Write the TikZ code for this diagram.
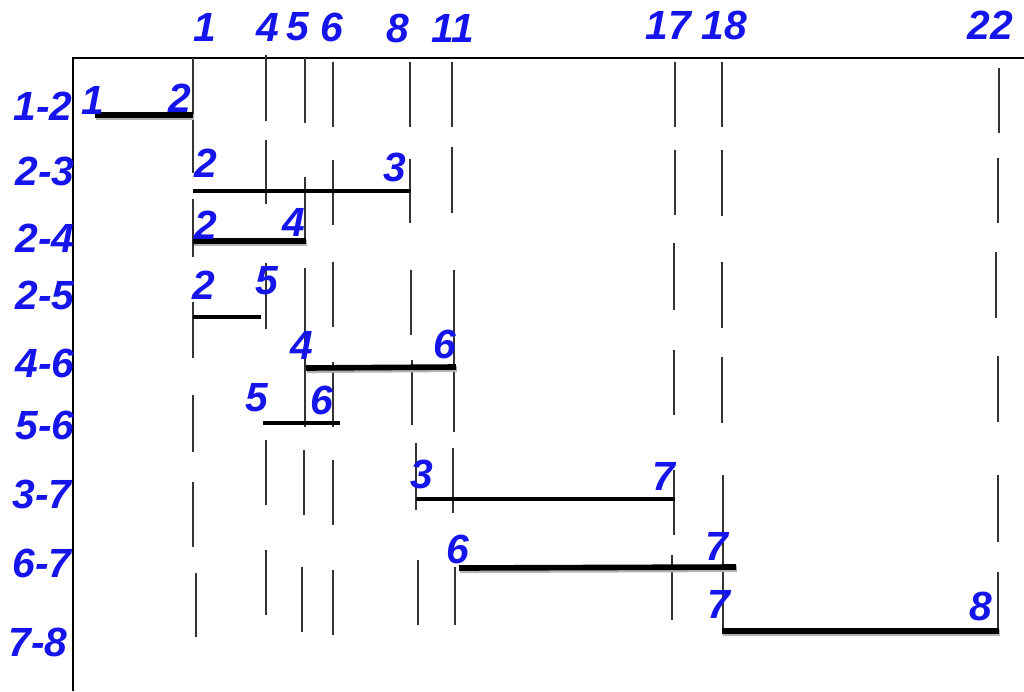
\documentclass[tikz,border=0pt]{standalone}
\usepackage{fontspec}
\setmainfont{Liberation Sans}
\usetikzlibrary{positioning}
\definecolor{evblue}{RGB}{20,20,235}

\tikzset{
  evlabel/.style={text=evblue, inner sep=0pt, font=\fontsize{29}{31}\selectfont\bfseries\itshape},
  tickline/.style={line width=1.7pt, black!80},
  heavybar/.style={line width=4pt, preaction={draw, black!30, line width=4pt, transform canvas={shift={(0.6pt,-1.6pt)}}}},
  lightbar/.style={line width=2.6pt},
  axisline/.style={line width=1.8pt}
}

\begin{document}
\begin{tikzpicture}[x=0.025cm, y=-0.025cm]
  \useasboundingbox (0,0) rectangle (1024,691);

  % axes
  \draw[axisline] (73,691) -- (73,58) -- (1024,58);

  % top scale
  \node[evlabel] (t1)  at (205,27) {1};
  \node[evlabel] (t4)  at (268,27) {4};
  \node[evlabel] (t5)  at (298,27) {5};
  \node[evlabel] (t6)  at (332,27) {6};
  \node[evlabel] (t8)  at (398,28) {8};
  \node[evlabel] (t11) at (453,28) {11};
  \node[evlabel] (t17) at (668,25) {17};
  \node[evlabel] (t18) at (724,25) {18};
  \node[evlabel] (t22) at (990,25) {22};

  % activity names
  \node[evlabel] (r12) at (43,106) {1-2};
  \node[evlabel] (r23) at (45,171) {2-3};
  \node[evlabel] (r24) at (45,238) {2-4};
  \node[evlabel] (r25) at (45,295) {2-5};
  \node[evlabel] (r46) at (45,363) {4-6};
  \node[evlabel] (r56) at (45,425) {5-6};
  \node[evlabel] (r37) at (42,494) {3-7};
  \node[evlabel] (r67) at (42,563) {6-7};
  \node[evlabel] (r78) at (38,642) {7-8};

  % broken guide lines under the scale
  \foreach \x/\a/\b in {
      193/58/173, 193/199/257, 193/302/358, 193/395/452, 193/482/547, 196/573/637,
      266/55/121, 266/140/204, 266/263/329, 266/440/505, 266/550/615,
      305/58/123, 305/177/240, 305/268/427, 304/450/515, 302/567/632,
      333/62/127, 333/160/225, 333/262/327, 333/362/427, 333/460/525, 333/570/635,
      410/62/127, 410/159/223, 411/270/335, 412/360/425, 416/443/510, 418/560/625,
      452/62/127, 452/147/213, 454/270/432, 453/448/513, 455/567/625,
      675/62/127, 675/150/215, 674/243/310, 674/350/415, 674/470/535, 672/555/620,
      722/62/127, 722/150/216, 722/262/328, 722/357/423, 723/475/633,
      999/68/133, 998/158/223, 996/252/318, 998/356/422, 998/475/542, 998/572/635}
    \draw[tickline] (\x,\a) -- (\x,\b);

  % activity bars
  \draw[heavybar] (95,115) -- (193,115);
  \draw[lightbar] (193,191) -- (411,191);
  \draw[heavybar] (193,241) -- (306,241);
  \draw[lightbar] (193,317) -- (261,317);
  \draw[heavybar] (306,368) -- (456,367);
  \draw[lightbar] (263,423) -- (340,423);
  \draw[lightbar] (416,499) -- (675,499);
  \draw[heavybar] (459,568) -- (736,567);
  \draw[heavybar] (722,631) -- (999,631);

  % event numbers at the bar ends
  \node[evlabel] (s12) at (93,100)  {1};
  \node[evlabel] (e12) at (180,98)  {2};
  \node[evlabel] (s23) at (206,163) {2};
  \node[evlabel] (e23) at (395,167) {3};
  \node[evlabel] (s24) at (206,225) {2};
  \node[evlabel] (e24) at (294,222) {4};
  \node[evlabel] (s25) at (204,285) {2};
  \node[evlabel] (e25) at (267,281) {5};
  \node[evlabel] (s46) at (302,345) {4};
  \node[evlabel] (e46) at (445,344) {6};
  \node[evlabel] (s56) at (257,398) {5};
  \node[evlabel] (e56) at (322,400) {6};
  \node[evlabel] (s37) at (422,474) {3};
  \node[evlabel] (e37) at (664,476) {7};
  \node[evlabel] (s67) at (458,549) {6};
  \node[evlabel] (e67) at (717,546) {7};
  \node[evlabel] (s78) at (719,604) {7};
  \node[evlabel] (e78) at (981,606) {8};
\end{tikzpicture}
\end{document}
